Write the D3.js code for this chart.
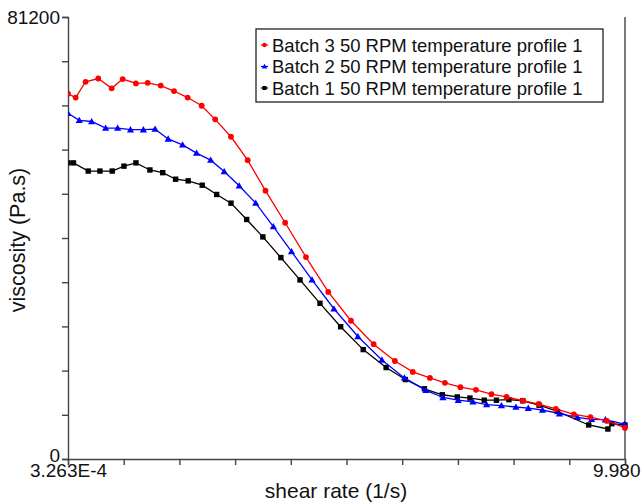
<!DOCTYPE html>
<html>
<head>
<meta charset="utf-8">
<script src="https://cdn.jsdelivr.net/npm/d3@7/dist/d3.min.js"></script>
<style>
  html, body { margin: 0; padding: 0; background: #fff; }
  svg text { font-family: "Liberation Sans", Arial, sans-serif; fill: #111; }
</style>
</head>
<body>
<svg id="chart" width="642" height="504"></svg>
<script>
// ---- data (shear rate in 1/s, viscosity in Pa.s) ----
const seriesNames = [
  "Batch 3 50 RPM temperature profile 1",
  "Batch 2 50 RPM temperature profile 1",
  "Batch 1 50 RPM temperature profile 1"
];
const seriesColors = ["#ff0000", "#0000ff", "#000000"];

const batch3Rate = [3.263e-4, 3.76e-4, 4.52e-4, 5.72e-4, 7.33e-4, 8.99e-4, 1.15e-3, 1.43e-3, 1.82e-3, 2.33e-3,
  3.00e-3, 3.89e-3, 5.00e-3, 6.70e-3, 9.13e-3, 1.27e-2, 1.83e-2, 2.69e-2, 4.07e-2, 6.20e-2,
  9.44e-2, 0.140, 0.195, 0.268, 0.354, 0.472, 0.629, 0.839, 1.11, 1.50,
  2.02, 2.77, 3.87, 5.26, 7.14, 9.98];
const batch3Visc = [67100, 66400, 69300, 69900, 68100, 69800, 69000, 69100, 68600, 67600,
  66400, 64900, 62400, 59200, 54900, 49300, 43400, 37100, 30700, 25400,
  21100, 18000, 16000, 14900, 14000, 13200, 12700, 11900, 11400, 10700,
  10100, 9200, 8200, 7700, 7000, 5700];

const batch2Rate = [3.263e-4, 4.02e-4, 5.06e-4, 6.56e-4, 8.19e-4, 1.04e-3, 1.32e-3, 1.64e-3, 2.09e-3, 2.73e-3,
  3.54e-3, 4.60e-3, 5.91e-3, 7.80e-3, 1.06e-2, 1.47e-2, 2.06e-2, 3.01e-2, 4.52e-2, 7.05e-2,
  0.110, 0.167, 0.249, 0.341, 0.453, 0.595, 0.767, 1.01, 1.32, 1.66,
  2.16, 2.96, 4.13, 5.38, 6.94, 9.88];
const batch2Visc = [63500, 62200, 62000, 60800, 60800, 60500, 60500, 60600, 58800, 57700,
  56200, 54900, 52800, 50200, 47000, 42700, 38100, 32900, 27600, 22500,
  18200, 14900, 12600, 11300, 10800, 10500, 10000, 9800, 9550, 9330,
  9000, 8320, 7660, 7290, 7220, 6390];

const batch1Rate = [3.263e-4, 3.61e-4, 4.75e-4, 5.90e-4, 7.41e-4, 9.21e-4, 1.15e-3, 1.49e-3, 1.89e-3, 2.40e-3,
  3.03e-3, 3.93e-3, 5.14e-3, 6.70e-3, 8.96e-3, 1.21e-2, 1.69e-2, 2.41e-2, 3.49e-2, 5.12e-2,
  7.78e-2, 0.119, 0.170, 0.242, 0.337, 0.445, 0.563, 0.734, 0.920, 1.16,
  1.50, 2.03, 2.85, 5.09, 7.27, 7.83, 9.98];
const batch1Visc = [54400, 54400, 52900, 52900, 52900, 53800, 54400, 53100, 52600, 51400,
  51100, 50300, 48600, 47000, 44000, 40800, 37000, 32900, 28600, 24300,
  20100, 16800, 14600, 12900, 11800, 11400, 11200, 10800, 10800, 10900,
  10700, 9880, 8730, 6250, 5510, 6490, 6250];

const xDomain = [3.263e-4, 9.980];
const yDomain = [0, 81200];
const xTickCount = 10;
const yTickStep = 8120;
const xEndLabels = ["3.263E-4", "9.980"];
const yEndLabels = ["0", "81200"];
const xTitle = "shear rate (1/s)";
const yTitle = "viscosity (Pa.s)";

// ---- layout ----
const svg = d3.select("#chart");
const L = 68, R = 625, T = 17, B = 459;
const x = d3.scaleLog().domain(xDomain).range([L, R]);
const y = d3.scaleLinear().domain(yDomain).range([B, T]);
const axisColor = "#444";

const series = [
  { name: seriesNames[0], color: seriesColors[0], shape: "circle", data: batch3Rate.map((r, i) => [r, batch3Visc[i]]) },
  { name: seriesNames[1], color: seriesColors[1], shape: "triangle", data: batch2Rate.map((r, i) => [r, batch2Visc[i]]) },
  { name: seriesNames[2], color: seriesColors[2], shape: "square", data: batch1Rate.map((r, i) => [r, batch1Visc[i]]) }
];

svg.append("defs").append("clipPath").attr("id", "plotclip")
  .append("rect").attr("x", L + 0.5).attr("y", T - 6).attr("width", R - L + 6).attr("height", B - T + 6);

// right frame line
svg.append("line").attr("x1", R).attr("x2", R).attr("y1", T).attr("y2", B)
  .attr("stroke", axisColor).attr("stroke-width", 1.4);

// axes
const lx = Math.log10(xDomain[0]), hx = Math.log10(xDomain[1]);
const xTicks = d3.range(xTickCount + 1).map(i => Math.pow(10, lx + (hx - lx) * i / xTickCount));
const yTicks = d3.range(0, yDomain[1] + 1, yTickStep);

const yAxis = d3.axisLeft(y).tickValues(yTicks).tickSize(6).tickPadding(2)
  .tickFormat((d, i) => i === 0 ? yEndLabels[0] : (i === yTicks.length - 1 ? yEndLabels[1] : ""));
const gy = svg.append("g").attr("transform", `translate(${L},0)`).call(yAxis);
gy.select(".domain").attr("stroke", axisColor).attr("stroke-width", 1.4);
gy.selectAll(".tick line").attr("stroke", axisColor).attr("stroke-width", 1.4);
gy.selectAll(".tick text").attr("font-size", 19).attr("fill", "#111")
  .attr("dy", (d, i) => i === 0 ? "0.12em" : "0.32em");

const xAxis = d3.axisBottom(x).tickValues(xTicks).tickSize(6).tickPadding(-1)
  .tickFormat((d, i) => i === 0 ? xEndLabels[0] : (i === xTicks.length - 1 ? xEndLabels[1] : ""));
const gx = svg.append("g").attr("transform", `translate(0,${B})`).call(xAxis);
gx.select(".domain").attr("stroke", axisColor).attr("stroke-width", 1.4);
gx.selectAll(".tick line").attr("stroke", axisColor).attr("stroke-width", 1.4);
gx.selectAll(".tick text").attr("font-size", 19).attr("fill", "#111")
  .attr("text-anchor", (d, i) => i === xTicks.length - 1 ? "end" : "middle")
  .attr("dx", (d, i) => i === xTicks.length - 1 ? "15" : "0");

// titles
svg.append("text").attr("x", 336).attr("y", 498).attr("text-anchor", "middle")
  .attr("font-size", 21).text(xTitle);
svg.append("text").attr("transform", `translate(25,240) rotate(-90)`)
  .attr("text-anchor", "middle").attr("font-size", 21.5).text(yTitle);

// marker drawer
function drawMarker(g, shape, cx, cy, color, s) {
  if (shape === "circle") {
    g.append("circle").attr("cx", cx).attr("cy", cy).attr("r", 2.9 * s).attr("fill", color);
  } else if (shape === "triangle") {
    const h = 3.6 * s;
    g.append("path").attr("d", `M${cx},${cy - h} L${cx + h},${cy + h * 0.75} L${cx - h},${cy + h * 0.75} Z`).attr("fill", color);
  } else {
    const a = 2.7 * s;
    g.append("rect").attr("x", cx - a).attr("y", cy - a).attr("width", 2 * a).attr("height", 2 * a).attr("fill", color);
  }
}

const plot = svg.append("g").attr("clip-path", "url(#plotclip)");
const line = d3.line().x(d => x(d[0])).y(d => y(d[1]));
series.slice().reverse().forEach(s => {
  plot.append("path").datum(s.data).attr("d", line).attr("fill", "none")
    .attr("stroke", s.color).attr("stroke-width", 1.3);
  const mg = plot.append("g");
  s.data.forEach(d => drawMarker(mg, s.shape, x(d[0]), y(d[1]), s.color, 1));
});

// legend
const lg = svg.append("g");
lg.append("rect").attr("x", 256).attr("y", 29).attr("width", 347).attr("height", 73)
  .attr("fill", "#fff").attr("stroke", "#222").attr("stroke-width", 1.3);
series.forEach((s, i) => {
  const cy = 45 + i * 21.5;
  lg.append("line").attr("x1", 261).attr("x2", 268).attr("y1", cy).attr("y2", cy)
    .attr("stroke", s.color).attr("stroke-width", 1.2);
  drawMarker(lg, s.shape, 264.5, cy, s.color, 0.75);
  lg.append("text").attr("x", 272).attr("y", cy + 6.5).attr("font-size", 18.5).text(s.name);
});
</script>
</body>
</html>
